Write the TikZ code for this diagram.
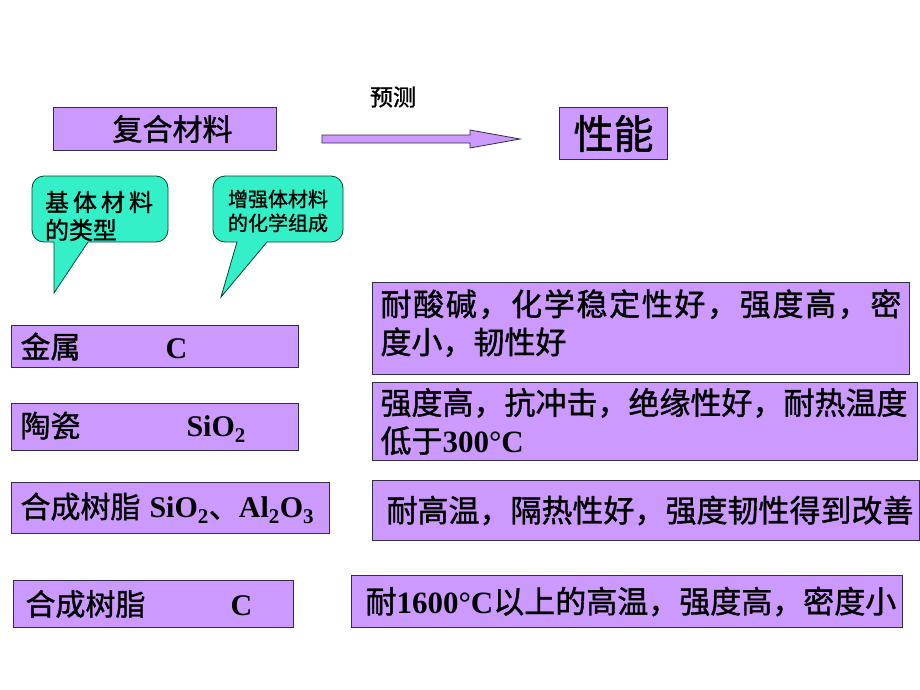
\documentclass[tikz,border=0pt]{standalone}
\usepackage{fontspec}
\setmainfont{Liberation Serif}
\newfontfamily\cjk{Noto Sans CJK SC}[FakeBold=1.2]
\definecolor{boxfill}{RGB}{204,153,255}
\definecolor{boxline}{RGB}{51,45,70}
\definecolor{callfill}{RGB}{51,240,200}
\definecolor{callline}{RGB}{0,70,50}
\newcommand\tb[1]{{\normalfont\bfseries #1}}
\def\spreadaux#1#2{#1\ifx\relax#2\else\hfil\expandafter\spreadaux\expandafter#2\fi}
\newcommand\spreadline[2]{\makebox[#1][s]{\spreadaux#2\relax}}
\begin{document}
\begin{tikzpicture}[x=1pt,y=-1pt,
  bx/.style={draw=boxline, line width=1pt, fill=boxfill, anchor=north west,
    inner ysep=0pt, align=left, font=\cjk\fontsize{30}{36}\selectfont},
  rbx/.style={bx, inner xsep=8pt, font=\cjk\fontsize{31}{38}\selectfont},
  lbx/.style={bx, inner xsep=9pt},
  callout/.style={draw=callline, fill=callfill, line width=0.8pt},
  arrowbox/.style={draw=boxline, fill=boxfill, line width=0.8pt}]
\useasboundingbox[fill=white] (0,0) rectangle (920,690);

% top row
\node[bx, minimum width=223pt, minimum height=43pt, inner xsep=0pt] (fh) at (53,107) {\hspace{15pt}复合材料};
\node[bx, minimum width=108pt, minimum height=52pt, inner xsep=0pt,
  font=\cjk\fontsize{40}{48}\selectfont] (xn) at (559,107) {\raisebox{-5pt}{性能}};
\node[font=\cjk\fontsize{23}{27}\selectfont, inner sep=0pt] (yc) at (393,97) {预测};
\coordinate (as) at (322,139);
\coordinate (ae) at (520,139);
\draw[arrowbox] (as) ++(0,-4) -- ++(148,0) -- ++(0,-5) -- (ae) -- ++(-50,9) -- ++(0,-5) -- ++(-148,0) -- cycle;

% callouts
\path[callout] (54,242) -- (54,293) -- (88,242) [rounded corners=12pt] -- (168,242) -- (168,176) -- (32,176) -- (32,242) [sharp corners] -- cycle;
\path[callout] (237,242) -- (221,297) -- (267,242) [rounded corners=12pt] -- (343,242) -- (343,176) -- (213,176) -- (213,242) [sharp corners] -- cycle;
\node[font=\cjk\fontsize{24}{28}\selectfont, align=left, inner sep=0pt] (c1) at (99,216) {\spreadline{108pt}{基体材料}\\的类型};
\node[font=\cjk\fontsize{20}{24}\selectfont, align=left, inner sep=0pt] (c2) at (278,211) {增强体材料\\的化学组成};

% left boxes
\node[lbx, text width=269pt, minimum height=42pt] (m1) at (11,325) {金属\hspace{85pt}\tb{C}};
\node[lbx, text width=269pt, minimum height=47pt] (m2) at (11,403) {陶瓷\hspace{106pt}\tb{SiO\textsubscript{2}}};
\node[lbx, text width=300pt, minimum height=51pt] (m3) at (11,482) {合成树脂\hspace{9pt}\tb{SiO\textsubscript{2}}、\tb{Al\textsubscript{2}O\textsubscript{3}}};
\node[lbx, text width=262pt, minimum height=47pt] (m4) at (13,580) {\hspace{3pt}合成树脂\hspace{85pt}\tb{C}};

% right boxes
\node[rbx, text width=521pt, minimum height=92pt] (r1) at (372,282) {\spreadline{521pt}{耐酸碱，化学稳定性好，强度高，密}\\度小，韧性好\rule[-14pt]{0pt}{1pt}};
\node[rbx, text width=529pt, minimum height=78pt] (r2) at (372,382) {\spreadline{526pt}{强度高，抗冲击，绝缘性好，耐热温度}\\低于\tb{300°C}};
\node[rbx, text width=531pt, minimum height=60pt] (r3) at (372,480) {\hspace{6pt}\spreadline{524pt}{耐高温，隔热性好，强度韧性得到改善}};
\node[rbx, text width=535pt, minimum height=52pt] (r4) at (351,575) {\hspace{6pt}耐\tb{1600°C}以上的高温，强度高，密度小};
\end{tikzpicture}
\end{document}
